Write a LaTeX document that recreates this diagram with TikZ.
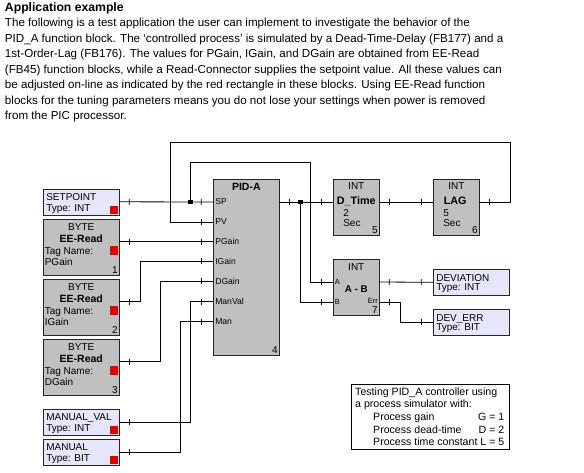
\documentclass[tikz,border=0pt]{standalone}
\usepackage{fontspec}
\setmainfont{Liberation Sans}
\usetikzlibrary{decorations.markings,calc}
\definecolor{lav}{RGB}{230,230,250}
\definecolor{gblk}{RGB}{192,192,192}
\definecolor{redc}{RGB}{230,0,0}
\begin{document}
\begin{tikzpicture}[x=1pt,y=-1pt,
  every node/.style={inner sep=0pt, outer sep=0pt},
  lavbox/.style={draw=black!85, fill=lav, line width=0.8pt, minimum width=76pt, minimum height=26pt, anchor=north west},
  grbox/.style={draw=black!85, fill=gblk, line width=0.8pt, anchor=north west},
  redmark/.style={fill=redc, minimum size=8.6pt, anchor=south east},
  jdot/.style={fill=black, minimum size=4.6pt},
  tn/.style={font=\fontsize{10}{11}\selectfont},
  tl/.style={font=\fontsize{10.6}{12}\selectfont},
  tb/.style={font=\fontsize{10.5}{12}\selectfont\bfseries},
  tp/.style={font=\fontsize{8.6}{10}\selectfont},
  ts/.style={font=\fontsize{7.5}{9}\selectfont},
  body/.style={font=\fontsize{11.6}{13}\selectfont, anchor=base west},
  tickmark/.style={line width=0.8pt},
  wire/.style={line width=0.8pt, postaction={decorate}, decoration={markings,
      mark=at position 10pt with {\draw[tickmark] (0pt,-3pt)--(0pt,3pt);},
      mark=at position -12pt with {\draw[tickmark] (0pt,-3pt)--(0pt,3pt);}}},
  wireend/.style={line width=0.8pt, postaction={decorate}, decoration={markings,
      mark=at position -12pt with {\draw[tickmark] (0pt,-3pt)--(0pt,3pt);}}}
]
\useasboundingbox (0,0) rectangle (584,472);
\fill[white] (0,0) rectangle (584,472);

% ---------- heading and text ----------
\node[anchor=base west, font=\fontsize{12.2}{14}\selectfont\bfseries] (head) at (5,11) {Application example};
\node[body] (l1) at (5,26.7) {The following is a test application the user can implement to investigate the behavior of the};
\node[body] (l2) at (5,42.3) {PID\_A function block. The ‘controlled process’ is simulated by a Dead-Time-Delay (FB177) and a};
\node[body] (l3) at (5,57.8) {1st-Order-Lag (FB176). The values for PGain, IGain, and DGain are obtained from EE-Read};
\node[body] (l4) at (5,73.3) {(FB45) function blocks, while a Read-Connector supplies the setpoint value. All these values can};
\node[body] (l5) at (5,88.7) {be adjusted on-line as indicated by the red rectangle in these blocks. Using EE-Read function};
\node[body] (l6) at (5,104) {blocks for the tuning parameters means you do not lose your settings when power is removed};
\node[body] (l7) at (5,119.3) {from the PIC processor.};

% ---------- left column ----------
\node[lavbox] (sp) at (43.3,189.3) {};
\node[grbox, minimum width=76pt, minimum height=56pt] (ee1) at (43.3,219.3) {};
\node[grbox, minimum width=76pt, minimum height=56pt] (ee2) at (43.3,279.3) {};
\node[grbox, minimum width=76pt, minimum height=56pt] (ee3) at (43.3,339.3) {};
\node[lavbox] (mv) at (43.3,409.3) {};
\node[lavbox] (man) at (43.3,439.3) {};

\node[redmark] (sp-r) at ([shift={(-1,-1)}]sp.south east) {};
\node[redmark] (mv-r) at ([shift={(-1,-1)}]mv.south east) {};
\node[redmark] (man-r) at ([shift={(-1,-1)}]man.south east) {};

\node[tn, anchor=base west] (sp-t1) at ($(sp.north west)+(3,11.2)$) {SETPOINT};
\node[tn, anchor=base west] (sp-t2) at ($(sp.north west)+(3,22.2)$) {Type: INT};
\node[tn, anchor=base west] (mv-t1) at ($(mv.north west)+(3,11.2)$) {MANUAL\_VAL};
\node[tn, anchor=base west] (mv-t2) at ($(mv.north west)+(3,22.2)$) {Type: INT};
\node[tn, anchor=base west] (man-t1) at ($(man.north west)+(3,11.2)$) {MANUAL};
\node[tn, anchor=base west] (man-t2) at ($(man.north west)+(3,22.2)$) {Type: BIT};

\foreach \n/\tg/\num in {ee1/PGain/1, ee2/IGain/2, ee3/DGain/3} {
  \node[redmark] (\n-r) at ($(\n.north east)+(-1,35.7)$) {};
  \node[tn, anchor=base] (\n-byte) at ($(\n.north)+(0,10.7)$) {BYTE};
  \node[tb, anchor=base] (\n-name) at ($(\n.north)+(0,23.4)$) {EE-Read};
  \node[tn, anchor=base west] (\n-tag) at ($(\n.north west)+(1.5,34.7)$) {Tag Name:};
  \node[tn, anchor=base west] (\n-tg) at ($(\n.north west)+(1.5,45.7)$) {\tg};
  \node[tn, anchor=base east] (\n-num) at ($(\n.north east)+(-1.5,54)$) {\num};
}

% ---------- PID block ----------
\node[grbox, minimum width=66pt, minimum height=175.7pt] (pid) at (213.3,179.3) {};
\node[tb, anchor=base] (pid-title) at ($(pid.north)+(0,10.7)$) {PID-A};
\node[tn, anchor=base east] (pid-num) at ($(pid.north east)+(-1.5,174)$) {4};
\foreach \p/\off/\lab in {sp/22.7/SP, pv/42.7/PV, pg/62.2/PGain, ig/82/IGain, dg/101.7/DGain, mv/122.2/ManVal, man/142.2/Man} {
  \path (pid.north west) ++(0,\off) coordinate (pid-\p);
  \node[tp, anchor=west] (pid-l\p) at ($(pid-\p)+(2,0)$) {\lab};
}
\path (pid.north east) ++(0,22.7) coordinate (pid-out);

% ---------- process blocks ----------
\node[grbox, minimum width=46pt, minimum height=56pt] (dt) at (333.3,179.3) {};
\node[grbox, minimum width=46pt, minimum height=56pt] (lag) at (433.3,179.3) {};
\node[grbox, minimum width=46pt, minimum height=56pt] (ab) at (333.3,259.3) {};

\node[tn, anchor=base] (dt-int) at ($(dt.north)+(0,9.7)$) {INT};
\node[tb, anchor=base west, font=\fontsize{10.8}{12}\selectfont\bfseries] (dt-name) at ($(dt.north west)+(3.5,24.7)$) {D\_Time};
\node[tn, anchor=base west] (dt-v) at ($(dt.north west)+(10,36.7)$) {2};
\node[tn, anchor=base west] (dt-u) at ($(dt.north west)+(10,46.7)$) {Sec};
\node[tn, anchor=base east] (dt-num) at ($(dt.north east)+(-1.5,54.5)$) {5};

\node[tn, anchor=base] (lag-int) at ($(lag.north)+(0,9.7)$) {INT};
\node[tb, anchor=base west, font=\fontsize{10.8}{12}\selectfont\bfseries] (lag-name) at ($(lag.north west)+(10.5,24.7)$) {LAG};
\node[tn, anchor=base west] (lag-v) at ($(lag.north west)+(10,36.7)$) {5};
\node[tn, anchor=base west] (lag-u) at ($(lag.north west)+(10,46.7)$) {Sec};
\node[tn, anchor=base east] (lag-num) at ($(lag.north east)+(-1.5,54.5)$) {6};

\node[tn, anchor=base] (ab-int) at ($(ab.north)+(0,11)$) {INT};
\node[tb, anchor=base, font=\fontsize{9.8}{12}\selectfont\bfseries] (ab-name) at ($(ab.north)+(0,33.5)$) {A - B};
\path (ab.north west) ++(0,22.7) coordinate (ab-a);
\path (ab.north west) ++(0,42.7) coordinate (ab-b);
\path (ab.north east) ++(0,22.7) coordinate (ab-out);
\path (ab.north east) ++(0,42.7) coordinate (ab-err);
\path (dt.north west) ++(0,22.7) coordinate (dt-in);
\path (dt.north east) ++(0,22.7) coordinate (dt-out);
\path (lag.north west) ++(0,22.7) coordinate (lag-in);
\path (lag.north east) ++(0,22.7) coordinate (lag-out);
\node[ts, anchor=west] (ab-la) at ($(ab-a)+(1.5,0)$) {A};
\node[ts, anchor=west] (ab-lb) at ($(ab-b)+(1.5,0)$) {B};
\node[ts, anchor=base east] (ab-lerr) at ($(ab-err)+(-1.5,1.8)$) {Err};
\node[tn, anchor=base east] (ab-num) at ($(ab.north east)+(-1.5,54.5)$) {7};

% ---------- outputs ----------
\node[lavbox] (dev) at (433.3,269.3) {};
\node[lavbox] (deverr) at (433.3,309.3) {};
\node[tn, anchor=base west] (dev-t1) at ($(dev.north west)+(3,12)$) {DEVIATION};
\node[tn, anchor=base west] (dev-t2) at ($(dev.north west)+(3,21.5)$) {Type: INT};
\node[tn, anchor=base west] (deverr-t1) at ($(deverr.north west)+(3,12)$) {DEV\_ERR};
\node[tn, anchor=base west] (deverr-t2) at ($(deverr.north west)+(3,21.5)$) {Type: BIT};

% ---------- legend ----------
\node[draw=black, line width=0.8pt, fill=white, minimum width=157.6pt, minimum height=65.3pt, anchor=north west] (leg) at (351.7,384) {};
\node[tl, anchor=base west] (leg1) at ($(leg.north west)+(3.5,11)$) {Testing PID\_A controller using};
\node[tl, anchor=base west] (leg2) at ($(leg.north west)+(3.5,23.7)$) {a process simulator with:};
\node[tl, anchor=base west] (leg3) at ($(leg.north west)+(21.5,36.4)$) {Process gain};
\node[tl, anchor=base east] (leg3v) at ($(leg.north east)+(-5,36.4)$) {G = 1};
\node[tl, anchor=base west] (leg4) at ($(leg.north west)+(21.5,49.1)$) {Process dead-time};
\node[tl, anchor=base east] (leg4v) at ($(leg.north east)+(-5,49.1)$) {D = 2};
\node[tl, anchor=base west] (leg5) at ($(leg.north west)+(21.5,61.8)$) {Process time constant L = 5};

% ---------- wires ----------
\path (sp.east) ++(0,-0.5) coordinate (sp-out);
\path (ee1.north east) ++(0,22.2) coordinate (ee1-out);
\path (ee2.north east) ++(0,22.5) coordinate (ee2-out);
\path (ee3.north east) ++(0,22.5) coordinate (ee3-out);

\draw[wire] (sp-out) -- (pid-sp);
\node[jdot] (j1) at ($(pid-sp)+(-22.8,0)$) {};
\draw[wireend] (j1.center) -- ++(0,-40) -| ($(ab-a)+(-22.5,0)$) -- (ab-a);

\draw[wire] (pid-out) -- (dt-in);
\node[jdot] (j2) at ($(pid-out)+(21,0)$) {};
\draw[wireend] (j2.center) |- (ab-b);

\draw[wire] (dt-out) -- (lag-in);
\draw[wire] (lag-out) -- ++(31.5,0) -- ++(0,-59.5) -| ($(pid-pv)+(-42.8,0)$) -- (pid-pv);

\draw[wire] (ee1-out) -- (pid-pg);
\draw[wire] (ee2-out) -- ++(21,0) |- (pid-ig);
\draw[wire] (ee3-out) -- ++(41,0) |- (pid-dg);
\draw[wire] (mv.east) -- ++(71.4,0) |- (pid-mv);
\draw[wire] (man.east) -- ++(61.4,0) |- (pid-man);

\draw[wire] (ab-out) -- (dev.west);
\draw[wire] (ab-err) -- ++(21,0) |- (deverr.west);
\end{tikzpicture}
\end{document}
